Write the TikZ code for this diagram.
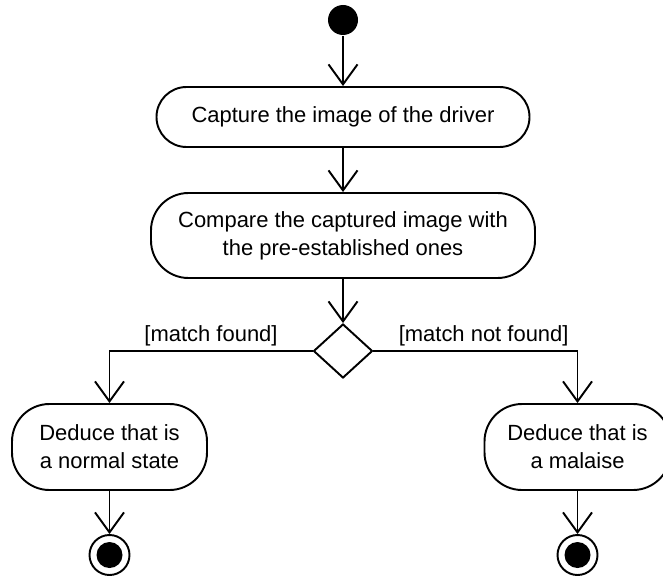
\documentclass[tikz,border=0pt]{standalone}
\usepackage{fontspec}
\setmainfont{Liberation Sans}
\usetikzlibrary{arrows.meta, positioning, shapes.geometric}
\tikzset{
  every picture/.style={font=\fontsize{12.5}{16}\selectfont, line width=1.1pt},
  act/.style={draw, rounded corners=0.6cm, align=center, inner sep=4pt},
  tall/.style={act, rounded corners=0.75cm, minimum height=1.72cm},
  flow/.style={-{Straight Barb[length=0.4cm, width=0.58cm]}},
  guard/.style={above, inner sep=2pt},
}

\begin{document}
\begin{tikzpicture}[
  start/.style={circle, fill=black, minimum size=0.6cm, inner sep=0pt},
  final/.style={circle, draw, minimum size=0.8cm, inner sep=0pt,
    path picture={\fill (path picture bounding box.center) circle (0.26cm);}},
  choice/.style={diamond, draw, fill=white, minimum width=1.18cm, minimum height=1.08cm, inner sep=0pt}]
  \useasboundingbox (0,0) rectangle (13.26,-11.52);
  \node[start] (init) at (6.86,-0.40) {};
  \node[act, minimum width=7.46cm, minimum height=1.2cm] (capture) at (6.86,-2.34) {Capture the image of the driver};
  \node[tall, minimum width=7.68cm, minimum height=1.7cm] (compare) at (6.86,-4.71) {Compare the captured image with\\the pre-established ones};
  \node[choice] (dec) at (6.86,-7.02) {};
  \node[tall, minimum width=3.9cm] (normal) at (2.19,-8.94) {Deduce that is\\a normal state};
  \node[tall, minimum width=3.72cm] (malaise) at (11.55,-8.94) {Deduce that is\\a malaise};
  \node[final] (fin1) at (2.19,-11.1) {};
  \node[final] (fin2) at (11.55,-11.1) {};
  \draw[flow] (init) -- (capture);
  \draw[flow] (capture) -- (compare);
  \draw[flow] (compare) -- (dec);
  \draw[flow] (dec.west) -| node[guard, pos=0.25] {[match found]} (normal.north);
  \draw[flow] (dec.east) -| node[guard, pos=0.27] {[match not found]} (malaise.north);
  \foreach \a/\b in {normal/fin1, malaise/fin2} \draw[flow] (\a) -- (\b);
\end{tikzpicture}
\end{document}
